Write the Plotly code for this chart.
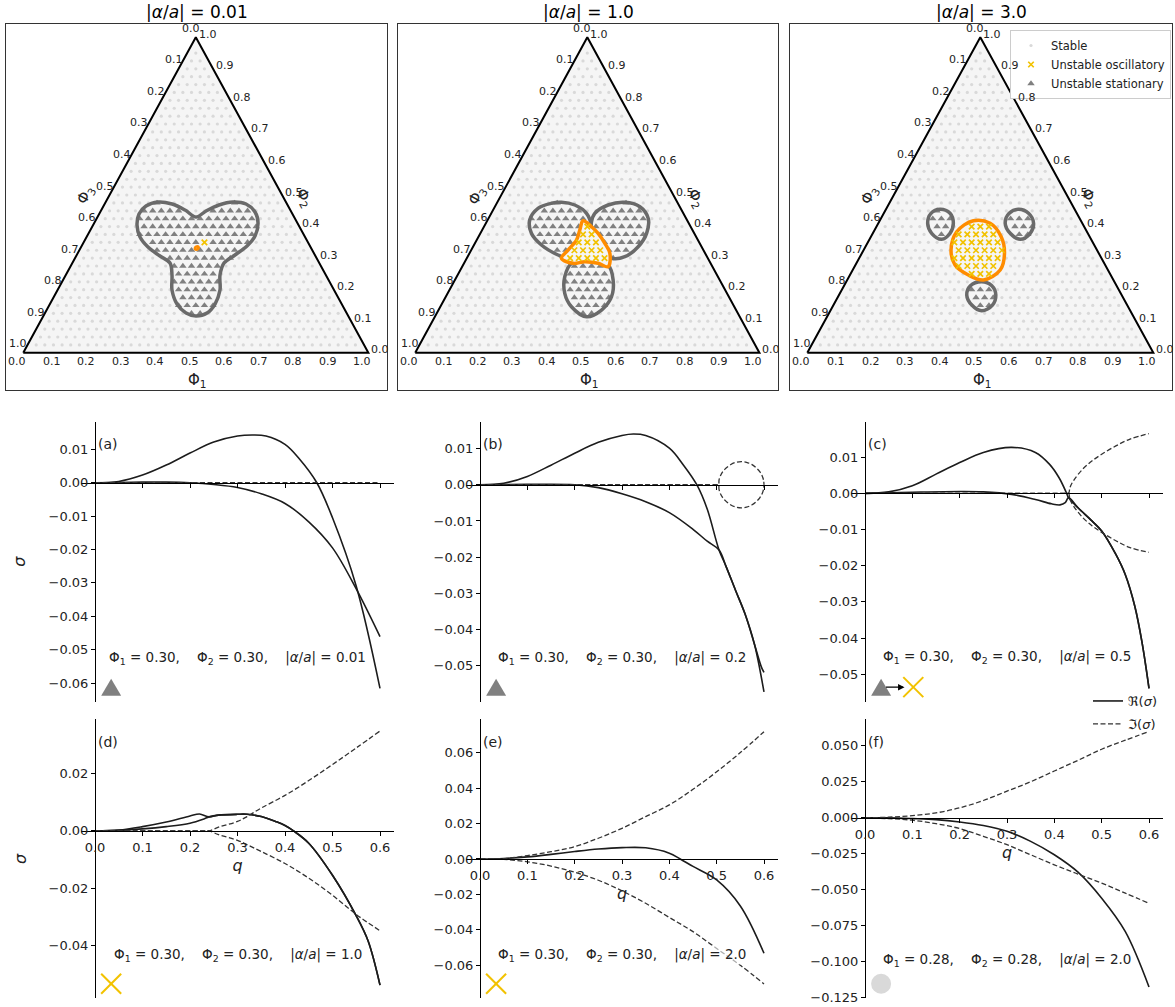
import plotly.graph_objects as go

W, H = 1175, 1007
FONT = "DejaVu Sans"
INK = "#1c1c1c"
GREY_MARK = "#808080"
STABLE_C = "#d9d9d9"
OSC_C = "#f2c200"
ORANGE = "#ff8c00"
CONTOUR_GREY = "#6a6a6a"
TRI_BG = "#f5f5f5"

# ====================== DATA: stability maps (top row) ======================
panel_alpha = ["0.01", "1.0", "3.0"]
tern_ticks = [0.0, 0.1, 0.2, 0.3, 0.4, 0.5, 0.6, 0.7, 0.8, 0.9, 1.0]
lattice_n = 40  # composition sampling grid of the stability map
simplex_phi1 = [0.0, 1.0, 0.0, 0.0]
simplex_phi2 = [0.0, 0.0, 1.0, 0.0]

# |alpha/a| = 0.01
m1_stat_phi1 = [0.2855, 0.2425, 0.1953, 0.1515, 0.1231, 0.1155, 0.1272, 0.1549, 0.1938, 0.2429,
                0.2830, 0.3078, 0.3316, 0.3683, 0.4087, 0.4424, 0.4696, 0.4785, 0.4707, 0.4469,
                0.4395, 0.4587, 0.4792, 0.4866, 0.4747, 0.4485, 0.4098, 0.3689, 0.3330, 0.3050]
m1_stat_phi2 = [0.4303, 0.4524, 0.4715, 0.4778, 0.4651, 0.4398, 0.4049, 0.3668, 0.3351, 0.3066,
                0.2844, 0.2464, 0.1988, 0.1544, 0.1259, 0.1164, 0.1259, 0.1544, 0.1988, 0.2464,
                0.2844, 0.3098, 0.3383, 0.3700, 0.4112, 0.4461, 0.4715, 0.4778, 0.4683, 0.4493]
m1_osc_phi1 = [0.334, 0.339, 0.341, 0.337, 0.333]
m1_osc_phi2 = [0.335, 0.335, 0.331, 0.328, 0.331]
m1_osc_sample_phi1 = [0.35]
m1_osc_sample_phi2 = [0.35]

# |alpha/a| = 1.0
m2_statA_phi1 = [0.1589, 0.1279, 0.1223, 0.1483, 0.1960, 0.2601, 0.2944, 0.3206, 0.3286, 0.3124, 0.2767, 0.2294, 0.1864]
m2_statA_phi2 = [0.4737, 0.4578, 0.4207, 0.3786, 0.3415, 0.3098, 0.2993, 0.3152, 0.3573, 0.3995, 0.4420, 0.4683, 0.4769]
m2_statB_phi1 = [0.3008, 0.3263, 0.3706, 0.4213, 0.4639, 0.4830, 0.4797, 0.4569, 0.4207, 0.3659, 0.3229, 0.3045]
m2_statB_phi2 = [0.4420, 0.4683, 0.4769, 0.4629, 0.4261, 0.3786, 0.3361, 0.3044, 0.2993, 0.3310, 0.3786, 0.4153]
m2_statC_phi1 = [0.3123, 0.3140, 0.3403, 0.3811, 0.4406, 0.4736, 0.4816, 0.4598, 0.4215, 0.3652]
m2_statC_phi2 = [0.2835, 0.2410, 0.1883, 0.1458, 0.1141, 0.1354, 0.1776, 0.2305, 0.2781, 0.2939]
m2_osc_phi1 = [0.2785, 0.3124, 0.3421, 0.3775, 0.4079, 0.4242, 0.3897, 0.3484, 0.3170, 0.2752, 0.2813, 0.2899, 0.2837]
m2_osc_phi2 = [0.4185, 0.3995, 0.3786, 0.3469, 0.3152, 0.2727, 0.2835, 0.2885, 0.2835, 0.2993, 0.3256, 0.3573, 0.3890]

# |alpha/a| = 3.0
m3_statA_phi1 = [0.1562, 0.1915, 0.2169, 0.2232, 0.2086, 0.1701, 0.1427, 0.1364]
m3_statA_phi2 = [0.4547, 0.4420, 0.4103, 0.3786, 0.3595, 0.3786, 0.4103, 0.4420]
m3_statB_phi1 = [0.3831, 0.4184, 0.4488, 0.4550, 0.4356, 0.3971, 0.3668, 0.3625]
m3_statB_phi2 = [0.4547, 0.4420, 0.4103, 0.3786, 0.3595, 0.3786, 0.4103, 0.4420]
m3_statC_phi1 = [0.3917, 0.4271, 0.4534, 0.4595, 0.4377, 0.3998, 0.3694, 0.3651]
m3_statC_phi2 = [0.2251, 0.2124, 0.1829, 0.1512, 0.1332, 0.1512, 0.1829, 0.2124]
m3_osc_phi1 = [0.2526, 0.2401, 0.2707, 0.3233, 0.3764, 0.4123, 0.4263, 0.3937, 0.3423, 0.2879]
m3_osc_phi2 = [0.3256, 0.3836, 0.4185, 0.4103, 0.3678, 0.3152, 0.2622, 0.2305, 0.2464, 0.2781]

# ====================== DATA: growth-rate curves (bottom rows) ======================
# (a) Phi1=0.30, Phi2=0.30, |alpha/a|=0.01
a_q_re1 = [0, 0.05, 0.1, 0.15, 0.2, 0.25, 0.3, 0.333, 0.36, 0.4, 0.43, 0.467, 0.5, 0.55, 0.6]
a_re1 = [0, 0.0004, 0.0023, 0.0053, 0.0089, 0.0122, 0.0140, 0.0143, 0.0140, 0.0115, 0.0072, 0.0, -0.0105, -0.0310, -0.0616]
a_q_re2 = [0, 0.05, 0.1, 0.15, 0.2, 0.25, 0.3, 0.35, 0.4, 0.45, 0.5, 0.55, 0.6]
a_re2 = [0, 0.0001, 0.0002, 0.0002, 0.0, -0.0005, -0.0014, -0.0033, -0.0062, -0.0117, -0.0195, -0.0318, -0.0461]
a_q_im = [0, 0.6]
a_im = [0, 0]

# (b) Phi1=0.30, Phi2=0.30, |alpha/a|=0.2
b_q_re1 = [0, 0.05, 0.1, 0.15, 0.2, 0.25, 0.3, 0.324, 0.35, 0.4, 0.43, 0.458, 0.48, 0.505, 0.52, 0.54, 0.56, 0.58, 0.6]
b_re1 = [0, 0.0004, 0.0023, 0.0054, 0.0087, 0.0117, 0.0136, 0.0140, 0.0136, 0.0101, 0.0054, 0.0, -0.0067,
         -0.0180, -0.0226, -0.0292, -0.0357, -0.0441, -0.0572]
b_q_re2 = [0, 0.1, 0.2, 0.25, 0.3, 0.35, 0.4, 0.45, 0.48, 0.505, 0.52, 0.54, 0.56, 0.58, 0.595, 0.6]
b_re2 = [0, 0.0001, 0.0, -0.0008, -0.0025, -0.0047, -0.0077, -0.0123, -0.0156, -0.0180, -0.0226, -0.0292,
         -0.0357, -0.0441, -0.0505, -0.0518]
b_q_im = [0, 0.5, 0.504, 0.505, 0.508, 0.513, 0.52, 0.53, 0.541, 0.552, 0.563, 0.574, 0.584, 0.591, 0.596, 0.599, 0.6]
b_im1 = [0, 0, 0, 0.0013, 0.0025, 0.0036, 0.0046, 0.0056, 0.0062, 0.0064, 0.0062, 0.0056, 0.0046, 0.0036,
         0.0025, 0.0013, 0]
b_im2 = [0, 0, 0, -0.0013, -0.0025, -0.0036, -0.0046, -0.0056, -0.0062, -0.0064, -0.0062, -0.0056, -0.0046,
         -0.0036, -0.0025, -0.0013, 0]

# (c) Phi1=0.30, Phi2=0.30, |alpha/a|=0.5
c_q_re1 = [0, 0.05, 0.1, 0.15, 0.2, 0.25, 0.31, 0.36, 0.39, 0.41, 0.426, 0.43, 0.45, 0.48, 0.5, 0.53, 0.55, 0.57, 0.585, 0.6]
c_re1 = [0, 0.0004, 0.0021, 0.0053, 0.0085, 0.0113, 0.0127, 0.0113, 0.0080, 0.0043, 0.0, -0.0012, -0.0040,
         -0.0077, -0.0104, -0.0169, -0.0225, -0.0312, -0.0410, -0.0539]
c_q_re2 = [0, 0.1, 0.2, 0.25, 0.31, 0.36, 0.394, 0.412, 0.423, 0.43, 0.45, 0.48, 0.5, 0.53, 0.55, 0.57, 0.585, 0.6]
c_re2 = [0, 0.0003, 0.0005, 0.0004, -0.0003, -0.0017, -0.0029, -0.0032, -0.0026, -0.0012, -0.0040, -0.0077,
         -0.0104, -0.0169, -0.0225, -0.0312, -0.0410, -0.0539]
c_q_im = [0, 0.42, 0.43, 0.433, 0.44, 0.46, 0.48, 0.5, 0.53, 0.56, 0.6]
c_im1 = [0, 0, 0, 0.0016, 0.0034, 0.0067, 0.0090, 0.0108, 0.0131, 0.0150, 0.0165]
c_im2 = [0, 0, 0, -0.0016, -0.0034, -0.0067, -0.0090, -0.0108, -0.0131, -0.0150, -0.0163]

# (d) Phi1=0.30, Phi2=0.30, |alpha/a|=1.0
d_q_re1 = [0, 0.05, 0.1, 0.15, 0.2, 0.22, 0.24, 0.26, 0.3, 0.32, 0.35, 0.38, 0.4, 0.418, 0.45, 0.5, 0.55, 0.575, 0.6]
d_re1 = [0, 0.0003, 0.0015, 0.0031, 0.0052, 0.0059, 0.0049, 0.0055, 0.0058, 0.0058, 0.0050, 0.0033, 0.0019,
         0.0, -0.0043, -0.0155, -0.0297, -0.0385, -0.0539]
d_q_re2 = [0, 0.05, 0.1, 0.15, 0.2, 0.228, 0.24, 0.26, 0.3, 0.32, 0.35, 0.38, 0.4, 0.418, 0.45, 0.5, 0.55, 0.575, 0.6]
d_re2 = [0, 0.0002, 0.0007, 0.0015, 0.0027, 0.0041, 0.0049, 0.0055, 0.0058, 0.0058, 0.0050, 0.0033, 0.0019,
         0.0, -0.0043, -0.0155, -0.0297, -0.0385, -0.0539]
d_q_im = [0, 0.23, 0.24, 0.26, 0.3, 0.32, 0.35, 0.4, 0.45, 0.5, 0.55, 0.6]
d_im1 = [0, 0, 0, 0.0013, 0.0033, 0.0050, 0.0080, 0.0124, 0.0176, 0.0232, 0.0290, 0.0349]
d_im2 = [0, 0, 0, -0.0013, -0.0033, -0.0048, -0.0072, -0.0114, -0.0165, -0.0225, -0.0292, -0.0349]

# (e) Phi1=0.30, Phi2=0.30, |alpha/a|=2.0
e_q_re = [0, 0.05, 0.1, 0.15, 0.2, 0.25, 0.3, 0.35, 0.4, 0.423, 0.45, 0.5, 0.55, 0.6]
e_re = [0, 0.0003, 0.0012, 0.0026, 0.0042, 0.0056, 0.0064, 0.0063, 0.0033, 0.0, -0.0042, -0.0118, -0.0265, -0.0532]
e_q_im = [0, 0.05, 0.1, 0.15, 0.2, 0.25, 0.3, 0.35, 0.4, 0.45, 0.5, 0.55, 0.6]
e_im1 = [0, 0.0002, 0.0019, 0.0041, 0.0070, 0.0117, 0.0173, 0.0239, 0.0305, 0.0393, 0.0492, 0.0600, 0.0718]
e_im2 = [0, -0.0002, -0.0016, -0.0040, -0.0075, -0.0120, -0.0180, -0.0250, -0.0330, -0.0410, -0.0505, -0.0600, -0.0705]

# (f) Phi1=0.28, Phi2=0.28, |alpha/a|=2.0
f_q = [0, 0.05, 0.1, 0.15, 0.2, 0.25, 0.3, 0.35, 0.4, 0.45, 0.5, 0.55, 0.6]
f_re = [0, 0.0, -0.0005, -0.0012, -0.0028, -0.0053, -0.0093, -0.0163, -0.0256, -0.0377, -0.0558, -0.0790, -0.1174]
f_im1 = [0, 0.0005, 0.0016, 0.0035, 0.0070, 0.0121, 0.0186, 0.0251, 0.0326, 0.0400, 0.0477, 0.0540, 0.0600]
f_im2 = [0, -0.0005, -0.0016, -0.0040, -0.0074, -0.0128, -0.0186, -0.0256, -0.0326, -0.0390, -0.0453, -0.0523, -0.0593]

panel_letters = ["a", "b", "c", "d", "e", "f"]
panel_phi = [("0.30", "0.30"), ("0.30", "0.30"), ("0.30", "0.30"), ("0.30", "0.30"), ("0.30", "0.30"), ("0.28", "0.28")]
panel_alpha_bottom = ["0.01", "0.2", "0.5", "1.0", "2.0", "2.0"]
panel_icons = ["stat", "stat", "stat2osc", "osc", "osc", "stable"]
panel_yrange = [[-0.0656, 0.0183], [-0.0599, 0.0174], [-0.0576, 0.0198],
                [-0.0585, 0.0390], [-0.0786, 0.0788], [-0.1253, 0.0685]]
panel_dtick = [0.01, 0.01, 0.01, 0.02, 0.02, 0.025]
panel_fmt = [".2f", ".2f", ".2f", ".2f", ".2f", ".3f"]

curves = [
    [("re", a_q_re1, a_re1), ("re", a_q_re2, a_re2), ("im", a_q_im, a_im)],
    [("re", b_q_re1, b_re1), ("re", b_q_re2, b_re2), ("im", b_q_im, b_im1), ("im", b_q_im, b_im2)],
    [("re", c_q_re1, c_re1), ("re", c_q_re2, c_re2), ("im", c_q_im, c_im1), ("im", c_q_im, c_im2)],
    [("re", d_q_re1, d_re1), ("re", d_q_re2, d_re2), ("im", d_q_im, d_im1), ("im", d_q_im, d_im2)],
    [("re", e_q_re, e_re), ("im", e_q_im, e_im1), ("im", e_q_im, e_im2)],
    [("re", f_q, f_re), ("im", f_q, f_im1), ("im", f_q, f_im2)],
]

# ====================== helpers ======================
def to_xy(p1, p2):
    return [a + b / 2.0 for a, b in zip(p1, p2)], list(p2)


def closed(p1, p2):
    return list(p1) + [p1[0]], list(p2) + [p2[0]]


def inside(px, py, xs, ys):
    c = False
    j = len(xs) - 1
    for i in range(len(xs)):
        if (ys[i] > py) != (ys[j] > py):
            xint = (xs[j] - xs[i]) * (py - ys[i]) / (ys[j] - ys[i]) + xs[i]
            if px < xint:
                c = not c
        j = i
    return c


fig = go.Figure()
annotations = []
shapes = []

# ====================== top row ======================
maps = [
    dict(stat=[(m1_stat_phi1, m1_stat_phi2)], osc=[(m1_osc_phi1, m1_osc_phi2)],
         osc_samples=list(zip(m1_osc_sample_phi1, m1_osc_sample_phi2))),
    dict(stat=[(m2_statA_phi1, m2_statA_phi2), (m2_statB_phi1, m2_statB_phi2), (m2_statC_phi1, m2_statC_phi2)],
         osc=[(m2_osc_phi1, m2_osc_phi2)], osc_samples=[]),
    dict(stat=[(m3_statA_phi1, m3_statA_phi2), (m3_statB_phi1, m3_statB_phi2), (m3_statC_phi1, m3_statC_phi2)],
         osc=[(m3_osc_phi1, m3_osc_phi2)], osc_samples=[]),
]
frame_px = [(6, 387), (398, 778), (790, 1172)]
TX_RANGE = [-0.05, 1.054]
TY_RANGE = [-0.118, 1.042]

lat1, lat2 = [], []
for i in range(1, lattice_n):
    for j in range(1, lattice_n - i):
        lat1.append(i / lattice_n)
        lat2.append(j / lattice_n)

layout_axes = {}
for p, m in enumerate(maps):
    sfx = "" if p == 0 else str(p + 1)
    xa, ya = "x" + sfx, "y" + sfx
    x0, x1 = frame_px[p]
    layout_axes["xaxis" + sfx] = dict(domain=[x0 / W, x1 / W], range=TX_RANGE, anchor=ya, showline=True, mirror=True,
                                      linecolor="#333333", linewidth=1, showticklabels=False, ticks="",
                                      showgrid=False, zeroline=False, fixedrange=True)
    layout_axes["yaxis" + sfx] = dict(domain=[1 - 390 / H, 1 - 24 / H], range=TY_RANGE, anchor=xa, showline=True,
                                      mirror=True, linecolor="#333333", linewidth=1, showticklabels=False, ticks="",
                                      showgrid=False, zeroline=False, fixedrange=True)
    tx, ty = to_xy(simplex_phi1, simplex_phi2)
    fig.add_trace(go.Scatter(x=tx, y=ty, mode="lines", fill="toself", fillcolor=TRI_BG,
                             line=dict(color="black", width=2), xaxis=xa, yaxis=ya, showlegend=False,
                             hoverinfo="skip"))
    osc_polys = [to_xy(*c) for c in m["osc"]]
    stat_polys = [to_xy(*c) for c in m["stat"]]
    sx, sy, ox, oy, ux, uy = [], [], [], [], [], []
    for a, b in zip(lat1, lat2):
        x, y = a + b / 2.0, b
        if any(inside(x, y, px, py) for px, py in osc_polys) or any(
                abs(a - s1) < 1e-9 and abs(b - s2) < 1e-9 for s1, s2 in m["osc_samples"]):
            ox.append(x); oy.append(y)
        elif any(inside(x, y, px, py) for px, py in stat_polys):
            ux.append(x); uy.append(y)
        else:
            sx.append(x); sy.append(y)
    show = (p == 2)
    fig.add_trace(go.Scatter(x=sx, y=sy, mode="markers", name="Stable", legendrank=1,
                             marker=dict(symbol="circle", size=3.2, color=STABLE_C, line=dict(width=0)),
                             xaxis=xa, yaxis=ya, showlegend=show, legend="legend2", hoverinfo="skip"))
    fig.add_trace(go.Scatter(x=ux, y=uy, mode="markers", name="Unstable stationary", legendrank=3,
                             marker=dict(symbol="triangle-up", size=6.5, color=GREY_MARK, line=dict(width=0)),
                             xaxis=xa, yaxis=ya, showlegend=show, legend="legend2", hoverinfo="skip"))
    for c in m["stat"]:
        cx, cy = to_xy(*closed(*c))
        fig.add_trace(go.Scatter(x=cx, y=cy, mode="lines", line=dict(color=CONTOUR_GREY, width=3.5, shape="spline"),
                                 xaxis=xa, yaxis=ya, showlegend=False, hoverinfo="skip"))
    for c in m["osc"]:
        cx, cy = to_xy(*closed(*c))
        fig.add_trace(go.Scatter(x=cx, y=cy, mode="lines", fill="toself", fillcolor=TRI_BG,
                                 line=dict(color=ORANGE, width=3.5, shape="spline"),
                                 xaxis=xa, yaxis=ya, showlegend=False, hoverinfo="skip"))
    fig.add_trace(go.Scatter(x=ox, y=oy, mode="markers", name="Unstable oscillatory", legendrank=2,
                             marker=dict(symbol="x-thin", size=5.5, color=OSC_C, line=dict(width=1.7, color=OSC_C)),
                             xaxis=xa, yaxis=ya, showlegend=show, legend="legend2", hoverinfo="skip"))
    tf = dict(family=FONT, size=11, color="#222222")
    for v in tern_ticks:
        lab = f"{v:.1f}"
        annotations.append(dict(x=v, y=0, xref=xa, yref=ya, text=lab, showarrow=False, font=tf,
                                xanchor="center", yanchor="middle", xshift=-6, yshift=-9))
        bx, by = to_xy([1 - v], [v])
        annotations.append(dict(x=bx[0], y=by[0], xref=xa, yref=ya, text=lab, showarrow=False, font=tf,
                                xanchor="left", yanchor="middle", xshift=1, yshift=3))
        lx, ly = to_xy([0.0], [1 - v])
        annotations.append(dict(x=lx[0], y=ly[0], xref=xa, yref=ya, text=lab, showarrow=False, font=tf,
                                xanchor="center", yanchor="middle", xshift=-5, yshift=9))
    af = dict(family=FONT, size=15, color="#222222")
    annotations.append(dict(x=0.506, y=-0.087, xref=xa, yref=ya, text="Φ<sub>1</sub>", showarrow=False, font=af,
                            xanchor="center", yanchor="middle"))
    annotations.append(dict(x=0.179, y=0.50, xref=xa, yref=ya, text="Φ<sub>3</sub>", showarrow=False, font=af,
                            textangle=-61, xanchor="center", yanchor="middle"))
    annotations.append(dict(x=0.816, y=0.49, xref=xa, yref=ya, text="Φ<sub>2</sub>", showarrow=False, font=af,
                            textangle=61, xanchor="center", yanchor="middle"))
    annotations.append(dict(x=(x0 + x1) / 2 / W, y=1 - 12 / H, xref="paper", yref="paper",
                            xanchor="center", yanchor="middle",
                            text=f"|<i>α</i>/<i>a</i>| = {panel_alpha[p]}", showarrow=False,
                            font=dict(family=FONT, size=17, color="black")))

# ====================== bottom rows ======================
col_px = [(80.75, 394.25), (465.8, 778.2), (850.8, 1163.2)]
row_px = [(421.7, 701.7), (719.3, 998.3)]
XR = [-0.03, 0.63]
NB = "\u00a0"
sigma_standoff = {0: 17, 3: 16}

for k in range(6):
    r, cidx = divmod(k, 3)
    n = k + 4
    xa, ya = f"x{n}", f"y{n}"
    cx0, cx1 = col_px[cidx]
    ry0, ry1 = row_px[r]
    xd = [cx0 / W, cx1 / W]
    yd = [1 - ry1 / H, 1 - ry0 / H]
    yr = panel_yrange[k]
    ypos = yd[0] + (0 - yr[0]) / (yr[1] - yr[0]) * (yd[1] - yd[0])
    xpos = xd[0] + (0 - XR[0]) / (XR[1] - XR[0]) * (xd[1] - xd[0])
    bottom = (r == 1)
    xax = dict(domain=xd, range=XR, anchor="free", position=ypos, showline=True,
               linecolor="black", linewidth=1, ticks="outside", ticklen=4, tickcolor="black",
               tick0=0, dtick=0.1, tickformat=".1f", showticklabels=bottom,
               tickfont=dict(family=FONT, size=13, color="#222222"), showgrid=False,
               zeroline=False, fixedrange=True)
    if bottom:
        xax["title"] = dict(text="<i>q</i>", standoff=6, font=dict(family=FONT, size=16, color="#222222"))
    yax = dict(domain=yd, range=yr, anchor="free", position=xpos, showline=True,
               linecolor="black", linewidth=1, ticks="outside", ticklen=4, tickcolor="black",
               tick0=0, dtick=panel_dtick[k], tickformat=panel_fmt[k],
               tickfont=dict(family=FONT, size=13, color="#222222"), showgrid=False,
               zeroline=False, fixedrange=True)
    if cidx == 0:
        yax["title"] = dict(text="<i>σ</i>", standoff=sigma_standoff[k],
                            font=dict(family=FONT, size=16, color="#222222"))
    layout_axes[f"xaxis{n}"] = xax
    layout_axes[f"yaxis{n}"] = yax
    for kind, qs, vals in curves[k]:
        if kind == "re":
            line = dict(color=INK, width=1.6, shape="spline")
            nm = "ℜ(<i>σ</i>)"
        else:
            line = dict(color="#333333", width=1.3, dash="5px,2.5px", shape="spline")
            nm = "ℑ(<i>σ</i>)"
        first = (k == 0) and ((kind == "re" and qs is a_q_re1) or kind == "im")
        fig.add_trace(go.Scatter(x=qs, y=vals, mode="lines", line=line, name=nm, xaxis=xa, yaxis=ya,
                                 showlegend=first, legend="legend", legendgroup=kind, hoverinfo="skip"))
    dom_x, dom_y = xa + " domain", ya + " domain"
    annotations.append(dict(x=0.05, y=0.92, xref=dom_x, yref=dom_y, text=f"({panel_letters[k]})", showarrow=False,
                            xanchor="left", yanchor="middle", font=dict(family=FONT, size=14, color="#222222")))
    ph1, ph2 = panel_phi[k]
    sp = NB * 4
    cond = (f"Φ<sub>1</sub> = {ph1},{sp}Φ<sub>2</sub> = {ph2},{sp}|<i>α</i>/<i>a</i>| = {panel_alpha_bottom[k]}")
    cy_text = [0.157, 0.155, 0.158, 0.155, 0.155, 0.137][k]
    annotations.append(dict(x=0.5, y=cy_text, xref=dom_x, yref=dom_y, text=cond, showarrow=False,
                            xanchor="center", yanchor="middle",
                            bgcolor="rgba(255,255,255,0.6)", borderpad=0,
                            font=dict(family=FONT, size=13.5, color="#222222")))
    wpx, hpx = cx1 - cx0, ry1 - ry0
    icx, icy = 0.097, 0.052
    hw, hh = 10 / wpx, 17 / hpx

    def tri(cxv):
        shapes.append(dict(type="path", xref=dom_x, yref=dom_y,
                           path=f"M {cxv - hw},{icy - hh / 2} L {cxv + hw},{icy - hh / 2} L {cxv},{icy + hh / 2} Z",
                           fillcolor="#808080", line=dict(width=0)))

    def cross(cxv):
        dx, dy = 10 / wpx, 10 / hpx
        for sgn in (1, -1):
            shapes.append(dict(type="line", xref=dom_x, yref=dom_y, x0=cxv - dx, x1=cxv + dx,
                               y0=icy - sgn * dy, y1=icy + sgn * dy, line=dict(color=OSC_C, width=2)))

    icon = panel_icons[k]
    if icon == "stat":
        tri(icx)
    elif icon == "osc":
        cross(icx)
    elif icon == "stat2osc":
        tri(icx)
        cross(0.2)
        annotations.append(dict(x=0.172, y=icy, xref=dom_x, yref=dom_y, ax=-20, ay=0, text="", showarrow=True,
                                arrowhead=2, arrowsize=1, arrowwidth=1.3, arrowcolor="black"))
    else:
        r_x, r_y = 10 / wpx, 10 / hpx
        shapes.append(dict(type="circle", xref=dom_x, yref=dom_y, x0=icx - r_x, x1=icx + r_x,
                           y0=icy - r_y, y1=icy + r_y, fillcolor="#d9d9d9", line=dict(width=0)))

fig.update_layout(
    width=W, height=H, autosize=False, margin=dict(l=0, r=0, t=0, b=0, autoexpand=False),
    paper_bgcolor="white", plot_bgcolor="white",
    font=dict(family=FONT, size=13, color="#222222"),
    annotations=annotations, shapes=shapes, hovermode=False,
    legend=dict(x=1088 / W, y=1 - 686 / H, xanchor="left", yanchor="top", bgcolor="rgba(0,0,0,0)",
                font=dict(family=FONT, size=13, color="#222222"), itemwidth=30, tracegroupgap=3),
    legend2=dict(x=1010 / W, y=1 - 30 / H, xanchor="left", yanchor="top", bgcolor="white",
                 bordercolor="#cccccc", borderwidth=1, font=dict(family=FONT, size=11.5, color="#222222"),
                 itemwidth=30, tracegroupgap=0),
    **layout_axes,
)
fig.write_html("out.html", config={"responsive": False, "displayModeBar": False},
               post_script="document.body.style.margin='0px';document.body.style.overflow='hidden';")
